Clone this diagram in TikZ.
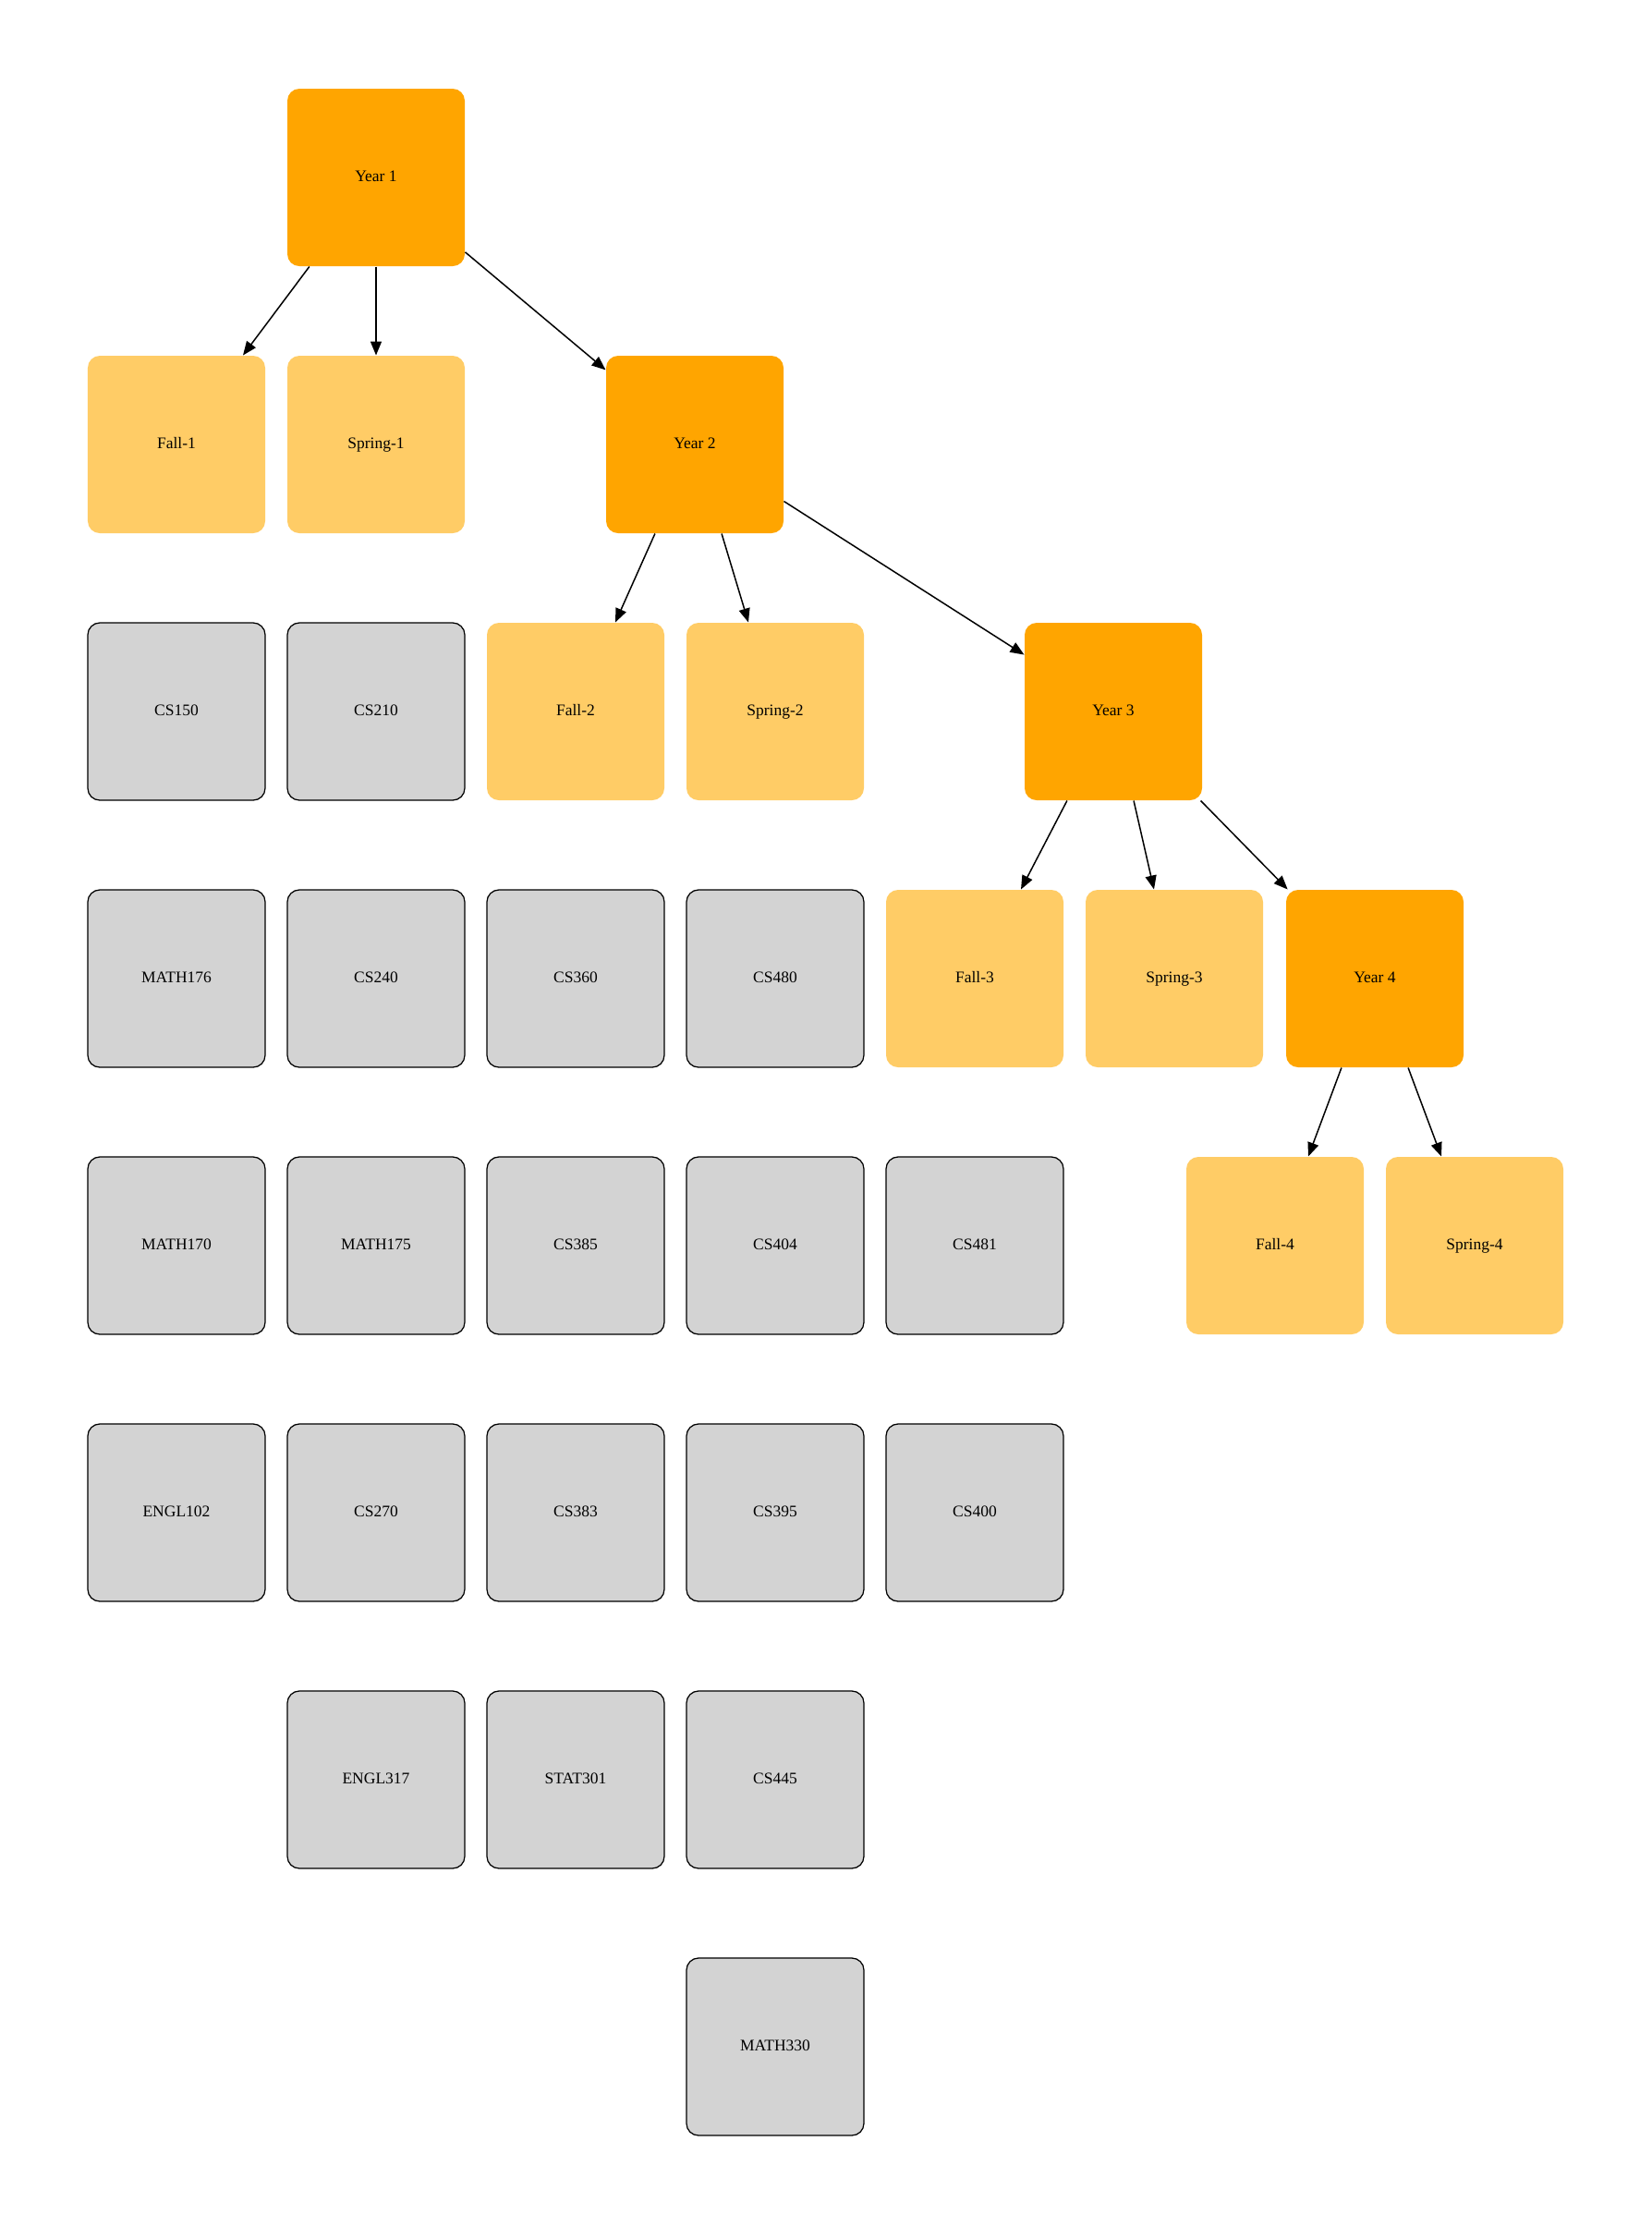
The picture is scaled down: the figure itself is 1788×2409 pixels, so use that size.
\documentclass[tikz,border=0pt]{standalone}
\usepackage{fontspec}
\setmainfont{Liberation Serif}
\usetikzlibrary{arrows.meta}
\definecolor{yearclr}{HTML}{FFA500}
\definecolor{termclr}{HTML}{FFCC66}
\definecolor{courseclr}{HTML}{D3D3D3}
\tikzstyle{box} = [rectangle, rounded corners=5.2pt, minimum size=76.8pt, inner sep=0pt, text height=4.8pt, text depth=1.4pt, font=\fontsize{7}{8}\selectfont]
\tikzstyle{year} = [box, fill=yearclr]
\tikzstyle{term} = [box, fill=termclr]
\tikzstyle{course} = [box, fill=courseclr, draw=black, line width=0.5pt]
\tikzstyle{link} = [-{Triangle[length=6pt,width=4.8pt]}, line width=0.6pt]

\begin{document}
\begin{tikzpicture}[x=0.4pt, y=-0.4pt]
	\useasboundingbox (0,0) rectangle (1788,2409);
	% years
	\node [year] (y1) at (407,192) {Year 1};
	\node [year] (y2) at (752,481) {Year 2};
	\node [year] (y3) at (1205,770) {Year 3};
	\node [year] (y4) at (1488,1059) {Year 4};
	% terms
	\node [term] (f1) at (191,481) {Fall-1};
	\node [term] (s1) at (407,481) {Spring-1};
	\node [term] (f2) at (623,770) {Fall-2};
	\node [term] (s2) at (839,770) {Spring-2};
	\node [term] (f3) at (1055,1059) {Fall-3};
	\node [term] (s3) at (1271,1059) {Spring-3};
	\node [term] (f4) at (1380,1348) {Fall-4};
	\node [term] (s4) at (1596,1348) {Spring-4};
	% courses
	\foreach \name [count=\i from 3] in {CS150, MATH176, MATH170, ENGL102}
		\node [course] (\name) at (191,{192+289*(\i-1)}) {\name};
	\foreach \name [count=\i from 3] in {CS210, CS240, MATH175, CS270, ENGL317}
		\node [course] (\name) at (407,{192+289*(\i-1)}) {\name};
	\foreach \name [count=\i from 4] in {CS360, CS385, CS383, STAT301}
		\node [course] (\name) at (623,{192+289*(\i-1)}) {\name};
	\foreach \name [count=\i from 4] in {CS480, CS404, CS395, CS445, MATH330}
		\node [course] (\name) at (839,{192+289*(\i-1)}) {\name};
	\foreach \name [count=\i from 5] in {CS481, CS400}
		\node [course] (\name) at (1055,{192+289*(\i-1)}) {\name};
	% links
	\draw [link] (y1) -- (f1);
	\draw [link] (y1) -- (s1);
	\draw [link] (y1) -- (y2);
	\draw [link] (y2) -- (f2);
	\draw [link] (y2) -- (s2);
	\draw [link] (y2) -- (y3);
	\draw [link] (y3) -- (f3);
	\draw [link] (y3) -- (s3);
	\draw [link] (y3) -- (y4);
	\draw [link] (y4) -- (f4);
	\draw [link] (y4) -- (s4);
\end{tikzpicture}
\end{document}
